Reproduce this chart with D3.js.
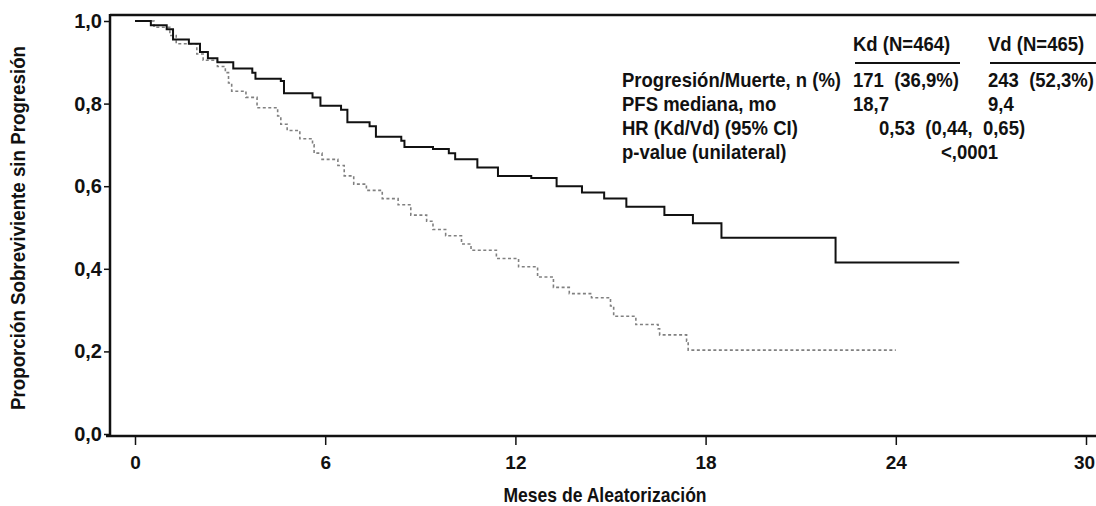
<!DOCTYPE html>
<html>
<head>
<meta charset="utf-8">
<script src="https://cdn.jsdelivr.net/npm/d3@7"></script>
<style>
  body { margin: 0; background: #fff; }
  text { font-family: "Liberation Sans", Arial, sans-serif; font-weight: bold; fill: #111; }
</style>
</head>
<body>
<div id="chart"></div>
<script>
// Kaplan-Meier step data (months, proportion)
var kdMonths = [0, 0.5, 1.0, 1.2, 1.7, 2.05, 2.3, 2.6, 3.1, 3.7, 3.8, 4.6, 4.7, 5.6, 5.85, 6.5, 6.7, 7.4, 7.6, 8.4, 8.5, 9.4, 9.9, 10.1, 10.8, 11.45, 12.5, 13.3, 14.1, 14.8, 15.5, 16.7, 17.6, 18.5, 22.1, 26.0];
var kdSurv   = [1.0, 0.99, 0.98, 0.955, 0.945, 0.925, 0.91, 0.9, 0.885, 0.875, 0.86, 0.855, 0.825, 0.815, 0.795, 0.785, 0.755, 0.745, 0.72, 0.71, 0.695, 0.69, 0.68, 0.665, 0.645, 0.625, 0.62, 0.6, 0.585, 0.57, 0.55, 0.53, 0.51, 0.475, 0.415, 0.415];

var vdMonths = [0, 0.6, 1.1, 1.3, 1.95, 2.15, 2.6, 2.85, 2.95, 3.05, 3.5, 3.85, 4.5, 4.6, 4.8, 5.2, 5.6, 5.65, 5.9, 6.4, 6.6, 6.9, 7.3, 7.8, 8.3, 8.7, 9.2, 9.4, 9.8, 10.3, 10.6, 11.4, 12.1, 12.7, 13.2, 13.7, 14.4, 15.0, 15.1, 15.8, 16.5, 16.55, 17.4, 17.45, 24.0];
var vdSurv   = [1.0, 0.985, 0.965, 0.945, 0.92, 0.905, 0.89, 0.875, 0.85, 0.83, 0.815, 0.79, 0.77, 0.75, 0.735, 0.715, 0.7, 0.68, 0.665, 0.65, 0.625, 0.605, 0.59, 0.57, 0.555, 0.53, 0.515, 0.495, 0.48, 0.46, 0.445, 0.425, 0.405, 0.38, 0.355, 0.34, 0.33, 0.31, 0.285, 0.265, 0.255, 0.24, 0.225, 0.203, 0.203];

var xTicks = [0, 6, 12, 18, 24, 30];
var yTicks = [0, 0.2, 0.4, 0.6, 0.8, 1.0];

// summary table
var colHeads = ["Kd (N=464)", "Vd (N=465)"];
var rowLabels = ["Progresión/Muerte, n (%)", "PFS mediana, mo", "HR (Kd/Vd) (95% CI)", "p-value (unilateral)"];
var kdCol = ["171  (36,9%)", "18,7"];
var vdCol = ["243  (52,3%)", "9,4"];
var hrText = "0,53  (0,44,  0,65)";
var pText = "<,0001";

var svgWidth = 1096;
var svgHeight = 506;

var svg = d3.select("#chart")
  .append("svg")
  .attr("width", svgWidth)
  .attr("height", svgHeight);

var xScale = d3.scaleLinear().domain([0, 30]).range([135, 1086]);
var yScale = d3.scaleLinear().domain([0, 1]).range([434, 21]);

var axisLeftX = 110;
var axisBottomY = 436;
var boxTopY = 15;

// condensed-looking text: regular font squeezed horizontally
function addText(g, x, y, str, size, sx, anchor) {
  return g.append("text")
    .attr("transform", `translate(${x}, ${y}) scale(${sx}, 1)`)
    .attr("text-anchor", anchor || "start")
    .attr("xml:space", "preserve")
    .style("font-size", size + "px")
    .text(str);
}

// frame: top line + left axis + bottom axis
svg.append("line")
  .attr("x1", axisLeftX).attr("x2", svgWidth)
  .attr("y1", boxTopY).attr("y2", boxTopY)
  .attr("stroke", "#111").attr("stroke-width", 2.5);

var fmt = function(d) { return d3.format(".1f")(d).replace(".", ","); };

var leftAxis = d3.axisLeft(yScale)
  .tickValues(yTicks)
  .tickFormat(fmt)
  .tickSize(6)
  .tickSizeOuter(0);

var gy = svg.append("g")
  .attr("transform", `translate(${axisLeftX}, 0)`)
  .call(leftAxis);
gy.select(".domain").remove();
gy.selectAll(".tick line").attr("stroke", "#111").attr("stroke-width", 1.5);
gy.selectAll(".tick text")
  .attr("x", -8)
  .style("font-size", "20px")
  .style("font-family", "'Liberation Sans', Arial, sans-serif")
  .attr("fill", "#111");

svg.append("line")
  .attr("x1", axisLeftX).attr("x2", axisLeftX)
  .attr("y1", boxTopY - 1).attr("y2", axisBottomY + 1)
  .attr("stroke", "#111").attr("stroke-width", 2.5);

var bottomAxis = d3.axisBottom(xScale)
  .tickValues(xTicks)
  .tickSize(9)
  .tickSizeOuter(0);

var gx = svg.append("g")
  .attr("transform", `translate(0, ${axisBottomY})`)
  .call(bottomAxis);
gx.select(".domain").remove();
gx.selectAll(".tick line").attr("stroke", "#111").attr("stroke-width", 1.5);
gx.selectAll(".tick text")
  .attr("y", 20)
  .style("font-size", "19px")
  .style("font-family", "'Liberation Sans', Arial, sans-serif")
  .attr("fill", "#111");
// the last label sits right at the page edge, keep it inside
gx.selectAll(".tick text").filter(d => d === 30).attr("dx", -2);

svg.append("line")
  .attr("x1", axisLeftX - 4).attr("x2", svgWidth)
  .attr("y1", axisBottomY).attr("y2", axisBottomY)
  .attr("stroke", "#111").attr("stroke-width", 2.5);

// axis titles
var yTitle = svg.append("g").attr("transform", "translate(25, 228) rotate(-90)");
addText(yTitle, 0, 0, "Proporción Sobreviviente sin Progresión", 19.5, 0.96, "middle");

addText(svg, 605, 502, "Meses de Aleatorización", 19.5, 0.9, "middle");

// step curves
function toPoints(ms, ss) {
  return ms.map(function(m, i) { return [m, ss[i]]; });
}

var stepLine = d3.line()
  .x(d => xScale(d[0]))
  .y(d => yScale(d[1]))
  .curve(d3.curveStepAfter);

svg.append("path")
  .datum(toPoints(vdMonths, vdSurv))
  .attr("d", stepLine)
  .attr("fill", "none")
  .attr("stroke", "#808080")
  .attr("stroke-width", 1.6)
  .attr("stroke-dasharray", "3,2.5");

svg.append("path")
  .datum(toPoints(kdMonths, kdSurv))
  .attr("d", stepLine)
  .attr("fill", "none")
  .attr("stroke", "#111")
  .attr("stroke-width", 2);

// summary table
var table = svg.append("g");
var colX = [853, 988];
var rowY = [87, 111, 135, 159];
var fs = 19.5, sq = 0.95;

colHeads.forEach(function(h, i) {
  addText(table, colX[i], 51, h, fs, sq);
  table.append("line")
    .attr("x1", colX[i] + 2).attr("x2", i === 0 ? colX[i] + 107 : svgWidth)
    .attr("y1", 63).attr("y2", 63)
    .attr("stroke", "#111").attr("stroke-width", 2);
});

rowLabels.forEach(function(r, i) {
  addText(table, 622, rowY[i], r, fs, sq);
});

kdCol.forEach(function(v, i) {
  addText(table, colX[0], rowY[i], v, fs, sq);
});
vdCol.forEach(function(v, i) {
  addText(table, colX[1], rowY[i], v, fs, sq);
});

addText(table, 879, rowY[2], hrText, fs, sq);
addText(table, 941, rowY[3], pText, fs, sq);
</script>
</body>
</html>
